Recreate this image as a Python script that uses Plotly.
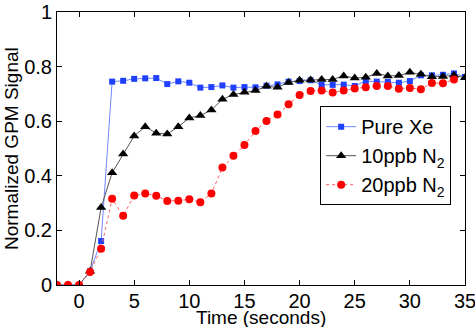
import plotly.graph_objects as go

# time axis in seconds, one sample per second
time_s = list(range(-2, 36))
time_red = list(range(-2, 35))

pure_xe = [0, 0, 0, 0.05, 0.161, 0.745, 0.748, 0.755, 0.757, 0.758, 0.736, 0.746,
           0.741, 0.723, 0.725, 0.731, 0.723, 0.725, 0.724, 0.730, 0.735, 0.745,
           0.747, 0.750, 0.733, 0.733, 0.734, 0.729, 0.747, 0.745, 0.744, 0.741,
           0.747, 0.768, 0.768, 0.770, 0.775, 0.762]
n2_10ppb = [0, 0, 0, 0.05, 0.284, 0.411, 0.480, 0.546, 0.580, 0.556, 0.553, 0.580,
            0.612, 0.621, 0.641, 0.680, 0.698, 0.706, 0.712, 0.728, 0.724, 0.742,
            0.750, 0.751, 0.753, 0.753, 0.766, 0.758, 0.761, 0.775, 0.766, 0.767,
            0.779, 0.772, 0.763, 0.764, 0.768, 0.759]
n2_20ppb = [0, 0, 0, 0.048, 0.133, 0.316, 0.254, 0.328, 0.335, 0.327, 0.308, 0.309,
            0.314, 0.303, 0.335, 0.430, 0.473, 0.513, 0.564, 0.601, 0.625, 0.662,
            0.696, 0.711, 0.712, 0.705, 0.712, 0.720, 0.724, 0.729, 0.729, 0.719,
            0.722, 0.717, 0.740, 0.739, 0.753]

x_ticks = [0, 5, 10, 15, 20, 25, 30, 35]
y_ticks = [0, 0.2, 0.4, 0.6, 0.8, 1]
y_tick_text = ["0", "0.2", "0.4", "0.6", "0.8", "1"]

FONT = "Liberation Sans, Arial, Helvetica, sans-serif"

fig = go.Figure()
fig.add_trace(go.Scatter(
    x=time_s, y=pure_xe, name="Pure Xe", mode="lines+markers",
    line=dict(color="#6f88ff", width=1),
    marker=dict(symbol="square", size=6, color="#2040ff"),
))
fig.add_trace(go.Scatter(
    x=time_s, y=n2_10ppb, name="10ppb N<sub>2</sub>", mode="lines+markers",
    line=dict(color="#555555", width=1),
    marker=dict(symbol="triangle-up", size=9, color="black"),
))
fig.add_trace(go.Scatter(
    x=time_red, y=n2_20ppb, name="20ppb N<sub>2</sub>", mode="lines+markers",
    line=dict(color="#ff6060", width=1, dash="dot"),
    marker=dict(symbol="circle", size=8, color="#ff0000"),
))

axis_common = dict(
    showline=True, linecolor="black", linewidth=1, mirror="allticks",
    ticks="inside", ticklen=5, tickcolor="black", showgrid=False,
    zeroline=False, tickfont=dict(size=20, color="black"), automargin=False,
    ticklabeloverflow="allow",
)
fig.update_xaxes(range=[-2, 35], tickvals=x_ticks, ticklabelstandoff=-2, **axis_common)
fig.update_yaxes(range=[0, 1], tickvals=y_ticks, ticktext=y_tick_text, **axis_common)

# axis titles placed by hand, as in the original tight layout
fig.add_annotation(
    text="Time (seconds)", xref="paper", yref="paper", x=0.5, y=0,
    xanchor="center", yanchor="top", yshift=-20, showarrow=False,
    font=dict(size=19, color="black"),
)
fig.add_annotation(
    text="Normalized GPM Signal", xref="paper", yref="paper", x=0, y=0.5,
    xanchor="right", yanchor="middle", xshift=-33, textangle=-90,
    showarrow=False, font=dict(size=19, color="black"),
)

fig.update_layout(
    width=475, height=327,
    margin=dict(l=57, r=10, t=12, b=42),
    paper_bgcolor="white", plot_bgcolor="white",
    font=dict(family=FONT, color="black"),
    showlegend=True,
    legend=dict(
        x=0.645, y=0.655, xanchor="left", yanchor="top",
        bgcolor="white", bordercolor="black", borderwidth=1,
        font=dict(size=20), itemwidth=30, tracegroupgap=0,
    ),
)

# drop the default body margin so the figure fills the window exactly
fig.write_html(
    "out.html",
    config={"displayModeBar": False},
    post_script="document.body.style.margin = '0';",
)
